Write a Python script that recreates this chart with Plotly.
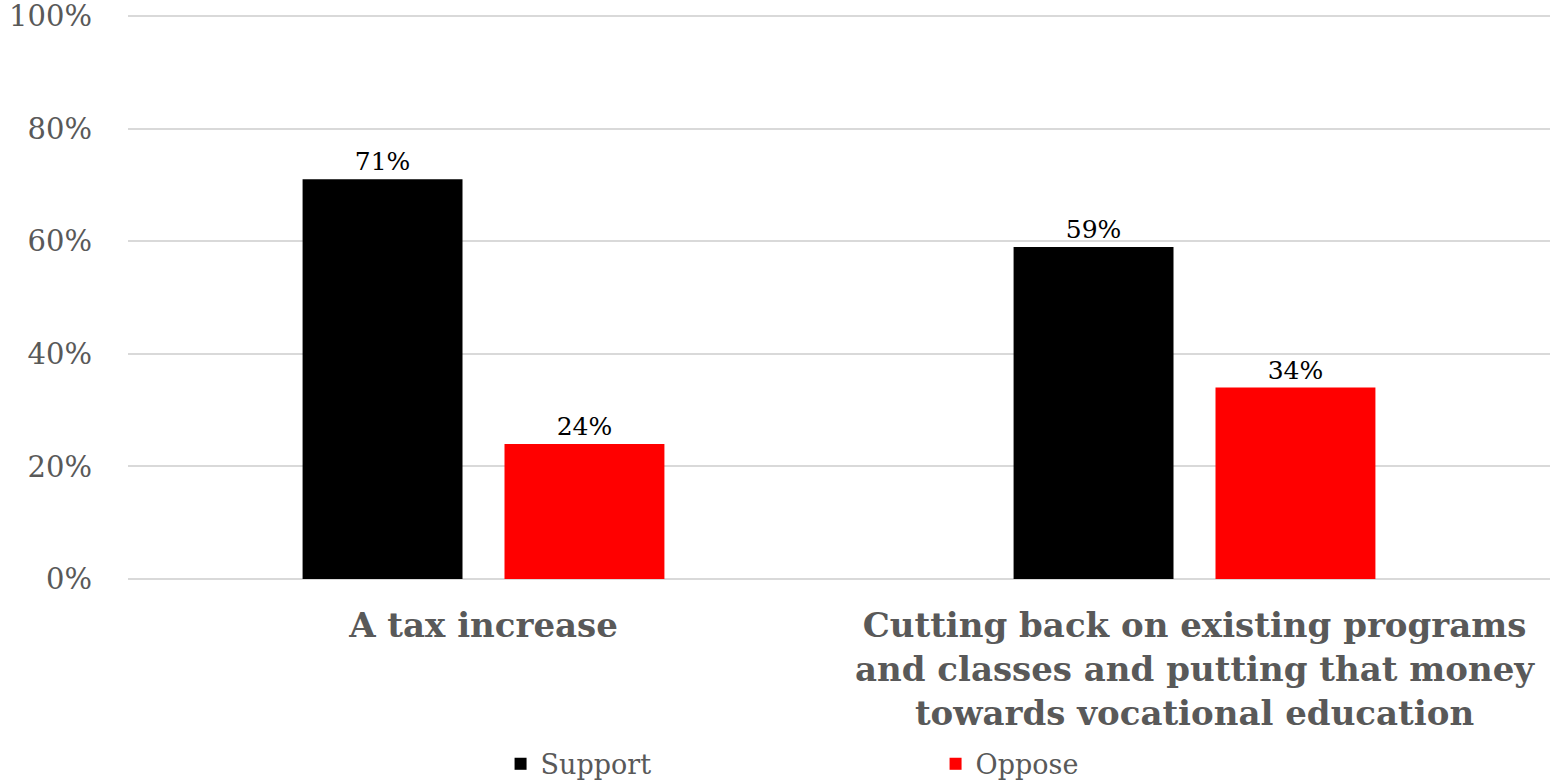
import plotly.graph_objects as go

categories = ["A tax increase",
              "Cutting back on existing programs<br>and classes and putting that money<br>towards vocational education"]
support = [0.71, 0.59]
oppose = [0.24, 0.34]
series_names = ["Support", "Oppose"]
colors = ["#000000", "#ff0000"]
yticks = [0, 0.2, 0.4, 0.6, 0.8, 1.0]

FONT = "Georgia, 'DejaVu Serif', serif"

fig = go.Figure()
for name, vals, col in zip(series_names, [support, oppose], colors):
    fig.add_trace(go.Bar(
        x=categories, y=vals, name=name,
        marker=dict(color=col, line=dict(width=0)),
        texttemplate="%{y:.0%}", textposition="outside",
        textfont=dict(family=FONT, size=25, color="#000000"),
        cliponaxis=False,
    ))

fig.update_layout(
    width=1551, height=783,
    margin=dict(l=128, r=1, t=15, b=204, autoexpand=False),
    paper_bgcolor="white", plot_bgcolor="white",
    barmode="group", bargap=0.432, bargroupgap=0.208,
    font=dict(family=FONT, color="#595959"),
    showlegend=True,
    legend=dict(orientation="h", x=0.262, xanchor="left", y=-0.285, yanchor="top",
                font=dict(family=FONT, size=27, color="#595959"),
                entrywidth=390, entrywidthmode="pixels",
                itemwidth=30, traceorder="normal"),
    xaxis=dict(
        tickvals=categories,
        ticktext=["<b>" + c + "</b>" for c in categories],
        tickfont=dict(family=FONT, size=34, color="#595959"),
        showline=False, ticks="", ticklabelstandoff=23, automargin=False,
    ),
    yaxis=dict(
        range=[0, 1.002], tickvals=yticks, tickformat=".0%",
        tickfont=dict(family=FONT, size=29, color="#595959"),
        showgrid=True, gridcolor="#d9d9d9", gridwidth=2,
        zeroline=True, zerolinecolor="#d9d9d9", zerolinewidth=2,
        ticklabelstandoff=35, automargin=False, ticklabeloverflow="allow",
    ),
)

fig.write_html("out.html", config={"displayModeBar": False},
               post_script="document.body.style.margin='0px';")
